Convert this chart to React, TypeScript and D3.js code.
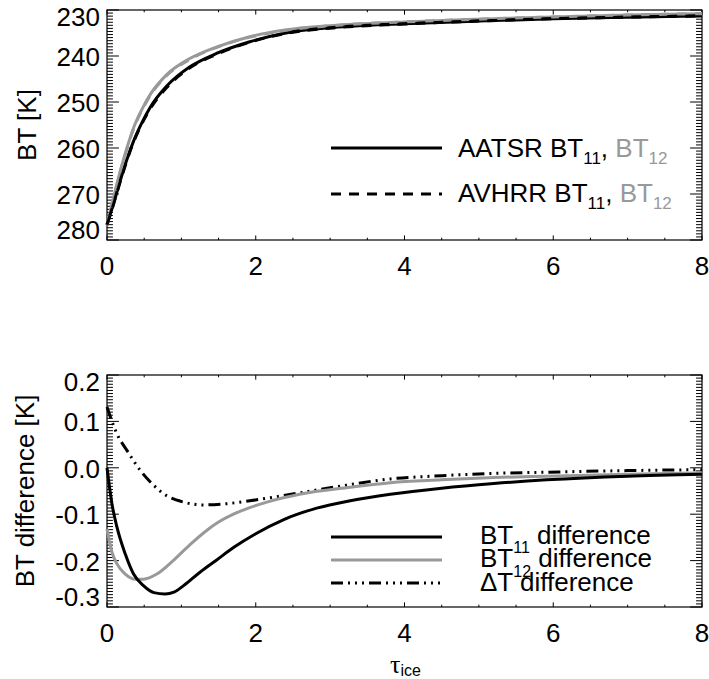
import React from "react";
import * as d3 from "d3";

// ---------- data ----------
const TAU_TOP = [0, 0.09, 0.18, 0.27, 0.36, 0.47, 0.58, 0.8, 1.12, 1.48, 1.92, 2.37, 3.04, 4, 5, 6, 7, 8];
const AATSR_BT11 = [276.7, 272.0, 267.0, 262.4, 258.4, 254.5, 251.2, 246.6, 242.3, 239.4, 236.9, 235.1, 233.8, 233.0, 232.4, 231.9, 231.55, 231.3];
const AATSR_BT12 = [276.7, 270.6, 264.9, 259.9, 255.5, 251.6, 248.4, 244.1, 240.5, 238.0, 235.8, 234.4, 233.35, 232.6, 232.0, 231.5, 231.1, 230.8];
const AVHRR_BT11 = [276.7, 272.1, 267.2, 262.6, 258.6, 254.7, 251.5, 246.9, 242.5, 239.6, 237.0, 235.2, 233.9, 233.05, 232.4, 231.9, 231.55, 231.3];
const AVHRR_BT12 = [276.8, 270.8, 265.1, 260.1, 255.7, 251.8, 248.6, 244.3, 240.7, 238.1, 235.9, 234.5, 233.4, 232.6, 232.0, 231.5, 231.1, 230.8];

const TAU_D11 = [0, 0.067, 0.134, 0.246, 0.357, 0.49, 0.63, 0.78, 0.9, 1.03, 1.25, 1.48, 1.7, 2.0, 2.37, 2.82, 3.27, 3.81, 4.5, 5.2, 5.91, 7, 8];
const DIFF_BT11 = [0.0, -0.078, -0.128, -0.186, -0.229, -0.254, -0.269, -0.272, -0.268, -0.254, -0.225, -0.198, -0.172, -0.142, -0.112, -0.087, -0.071, -0.057, -0.044, -0.034, -0.026, -0.018, -0.014];

const TAU_D12 = [0, 0.067, 0.134, 0.246, 0.38, 0.49, 0.67, 0.89, 1.12, 1.34, 1.5, 1.7, 1.9, 2.15, 2.59, 3.27, 3.81, 4.5, 5.2, 5.91, 7, 8];
const DIFF_BT12 = [-0.132, -0.182, -0.207, -0.229, -0.24, -0.24, -0.229, -0.2, -0.165, -0.135, -0.117, -0.1, -0.087, -0.074, -0.057, -0.042, -0.032, -0.026, -0.021, -0.018, -0.014, -0.011];

const TAU_DT = [0, 0.134, 0.27, 0.45, 0.63, 0.8, 1.03, 1.3, 1.57, 1.92, 2.37, 3.04, 3.81, 4.5, 5.2, 5.91, 7, 8];
const DIFF_DT = [0.131, 0.073, 0.037, -0.006, -0.038, -0.06, -0.074, -0.08, -0.078, -0.071, -0.06, -0.042, -0.024, -0.017, -0.012, -0.0095, -0.006, -0.004];

const X_TICKS = [0, 2, 4, 6, 8];
const Y_TOP_TICKS = [230, 240, 250, 260, 270, 280];
const Y_BOT_TICKS = [0.2, 0.1, 0.0, -0.1, -0.2, -0.3];

// ---------- layout ----------
const W = 709;
const H = 679;
const L = 107;
const R = 702;
const TOP1 = 10, BOT1 = 240;
const TOP2 = 375, BOT2 = 607;
const GRAY = "#999999";
const FONT = "'Liberation Sans', Arial, Helvetica, sans-serif";
const DASHDOT3 = "12,5,2,5,2,5,2,5";

const x = d3.scaleLinear().domain([0, 8]).range([L, R]);
const yTop = d3.scaleLinear().domain([230, 280]).range([TOP1, BOT1]);
const yBot = d3.scaleLinear().domain([0.2, -0.3]).range([TOP2, BOT2]);

function pathOf(xs: number[], ys: number[], y: d3.ScaleLinear<number, number>) {
  const gen = d3
    .line<number>()
    .x((_, i) => x(xs[i]))
    .y((v) => y(v))
    .curve(d3.curveMonotoneX);
  return gen(ys) || "";
}

function Axes({ top, bot, y, ticks, fmt }: any) {
  const els: any[] = [];
  const ph = bot - top;
  const pw = R - L;
  const xMaj = 0.02 * ph;
  const yMaj = 0.02 * pw;
  for (let i = 0; i <= 16; i++) {
    const v = i * 0.5;
    const px = x(v);
    const len = i % 4 === 0 ? xMaj : xMaj / 2;
    els.push(<line key={"xb" + i} x1={px} x2={px} y1={bot} y2={bot - len} stroke="#000" strokeWidth={1} />);
    els.push(<line key={"xt" + i} x1={px} x2={px} y1={top} y2={top + len} stroke="#000" strokeWidth={1} />);
  }
  const nMinor = 15;
  for (let k = 0; k < ticks.length; k++) {
    const v = ticks[k];
    const py = y(v);
    els.push(<line key={"yl" + k} x1={L} x2={L + yMaj} y1={py} y2={py} stroke="#000" strokeWidth={1} />);
    els.push(<line key={"yr" + k} x1={R} x2={R - yMaj} y1={py} y2={py} stroke="#000" strokeWidth={1} />);
    if (k < ticks.length - 1) {
      const v2 = ticks[k + 1];
      for (let j = 1; j < nMinor; j++) {
        const pm = y(v + ((v2 - v) * j) / nMinor);
        els.push(<line key={"ml" + k + "_" + j} x1={L} x2={L + yMaj / 2} y1={pm} y2={pm} stroke="#000" strokeWidth={1} />);
        els.push(<line key={"mr" + k + "_" + j} x1={R} x2={R - yMaj / 2} y1={pm} y2={pm} stroke="#000" strokeWidth={1} />);
      }
    }
    const base = Math.min(Math.max(py + 10, top + 16), bot - 1);
    els.push(
      <text key={"yt" + k} x={L - 7} y={base} textAnchor="end" fontSize={26} fontFamily={FONT} fill="#000">
        {fmt(v)}
      </text>
    );
  }
  X_TICKS.forEach((v, i) => {
    els.push(
      <text key={"xl" + i} x={x(v)} y={bot + 35} textAnchor="middle" fontSize={26} fontFamily={FONT} fill="#000">
        {String(v)}
      </text>
    );
  });
  els.push(<rect key="frame" x={L} y={top} width={pw} height={ph} fill="none" stroke="#000" strokeWidth={1.2} />);
  return <g>{els}</g>;
}

export default function App() {
  const fmtBot = (v: number) => (Math.abs(v) < 1e-9 ? "0.0" : v.toFixed(1));
  return (
    <svg width={W} height={H} style={{ position: "absolute", left: 0, top: 0, background: "#fff" }}>
      <rect x={0} y={0} width={W} height={H} fill="#fff" />
      {/* ---------- top panel ---------- */}
      <Axes top={TOP1} bot={BOT1} y={yTop} ticks={Y_TOP_TICKS} fmt={(v: number) => String(v)} />
      <path d={pathOf(TAU_TOP, AATSR_BT12, yTop)} fill="none" stroke={GRAY} strokeWidth={3} />
      <path d={pathOf(TAU_TOP, AATSR_BT11, yTop)} fill="none" stroke="#000" strokeWidth={3} />
      <path d={pathOf(TAU_TOP, AVHRR_BT12, yTop)} fill="none" stroke={GRAY} strokeWidth={3} strokeDasharray="10,8" />
      <path d={pathOf(TAU_TOP, AVHRR_BT11, yTop)} fill="none" stroke="#000" strokeWidth={3} strokeDasharray="10,8" />
      <text
        transform={`translate(36,${(TOP1 + BOT1) / 2}) rotate(-90)`}
        textAnchor="middle"
        fontSize={26}
        fontFamily={FONT}
        fill="#000"
      >
        BT [K]
      </text>
      {/* legend top */}
      <line x1={331} x2={442} y1={148} y2={148} stroke="#000" strokeWidth={3} />
      <text x={458} y={157} fontSize={26} fontFamily={FONT} fill="#000">
        AATSR BT<tspan fontSize={17} dy={7}>11</tspan>
        <tspan dy={-7}>, </tspan>
        <tspan fill={GRAY}>BT</tspan>
        <tspan fill={GRAY} fontSize={17} dy={7}>12</tspan>
      </text>
      <line x1={331} x2={442} y1={194} y2={194} stroke="#000" strokeWidth={3} strokeDasharray="10,8" />
      <text x={458} y={202} fontSize={26} fontFamily={FONT} fill="#000">
        AVHRR BT<tspan fontSize={17} dy={7}>11</tspan>
        <tspan dy={-7}>, </tspan>
        <tspan fill={GRAY}>BT</tspan>
        <tspan fill={GRAY} fontSize={17} dy={7}>12</tspan>
      </text>

      {/* ---------- bottom panel ---------- */}
      <Axes top={TOP2} bot={BOT2} y={yBot} ticks={Y_BOT_TICKS} fmt={fmtBot} />
      <path d={pathOf(TAU_DT, DIFF_DT, yBot)} fill="none" stroke="#000" strokeWidth={3} strokeDasharray={DASHDOT3} />
      <path d={pathOf(TAU_D12, DIFF_BT12, yBot)} fill="none" stroke={GRAY} strokeWidth={3} />
      <path d={pathOf(TAU_D11, DIFF_BT11, yBot)} fill="none" stroke="#000" strokeWidth={3} />
      <text
        transform={`translate(34,${(TOP2 + BOT2) / 2}) rotate(-90)`}
        textAnchor="middle"
        fontSize={26}
        fontFamily={FONT}
        fill="#000"
      >
        BT difference [K]
      </text>
      {/* legend bottom */}
      <line x1={331} x2={442} y1={537} y2={537} stroke="#000" strokeWidth={3} />
      <line x1={331} x2={442} y1={560} y2={560} stroke={GRAY} strokeWidth={3} />
      <line x1={331} x2={442} y1={583} y2={583} stroke="#000" strokeWidth={3} strokeDasharray={DASHDOT3} />
      <text x={480} y={543.5} fontSize={26} fontFamily={FONT} fill="#000">
        BT<tspan fontSize={16} dy={9}>11</tspan>
        <tspan dy={-9}> difference</tspan>
      </text>
      <text x={480} y={567.3} fontSize={26} fontFamily={FONT} fill="#000">
        BT<tspan fontSize={16} dy={10}>12</tspan>
        <tspan dy={-10}> difference</tspan>
      </text>
      <text x={480} y={591} fontSize={26} fontFamily={FONT} fill="#000">
        ΔT difference
      </text>
      {/* x label */}
      <text x={390} y={673} fontSize={26} fontFamily="'Liberation Serif', 'DejaVu Serif', serif" fill="#000">
        τ
        <tspan fontSize={16} dy={3} fontFamily={FONT}>ice</tspan>
      </text>
    </svg>
  );
}
